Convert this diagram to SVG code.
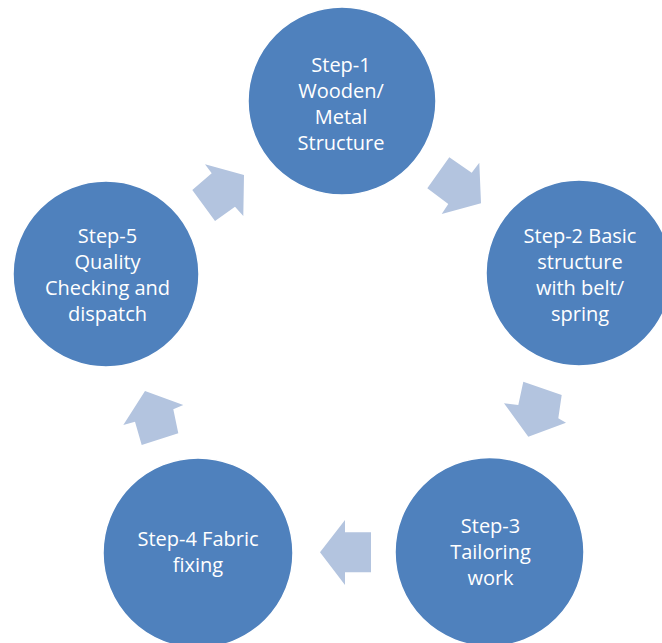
<svg xmlns="http://www.w3.org/2000/svg" width="662" height="643" viewBox="0 0 662 643">
<style>
.node circle{fill:#4F81BD;stroke:#ffffff;stroke-width:1.5}
.node text{font-family:"Open Sans","Liberation Sans",sans-serif;font-size:20px;fill:#ffffff;text-anchor:middle}
.arrow{fill:#B3C4DF;stroke:none}
</style>
<rect width="662" height="643" fill="#ffffff"/>
<g id="connectors">
<polygon class="arrow" points="205,164.3 211.7,173.3 192.3,190 215,221 235,206.7 243.3,216 244,175"/>
<polygon class="arrow" points="449.3,157.3 471.7,172.7 479.3,162.7 481,203.3 441.7,214 448.3,204 427.3,188.3"/>
<polygon class="arrow" points="523.3,381.7 561.7,395 558.3,418.3 566,422.7 528.3,436.7 504,403.3 518.3,405"/>
<polygon class="arrow" points="320,552.3 345,520 345,532.3 371,532.3 371,572.3 345,572.3 345,585"/>
<polygon class="arrow" points="145,391 123.3,425 135,421.7 141.7,445 178.3,433.3 173.3,409.3 183.3,405"/>
</g>
<g id="step1" class="node">
<circle cx="342" cy="101" r="94"/>
<text x="341" y="72">Step-1</text>
<text x="341" y="98">Wooden/</text>
<text x="341" y="124">Metal</text>
<text x="341" y="150">Structure</text>
</g>
<g id="step2" class="node">
<circle cx="579" cy="273" r="93"/>
<text x="580" y="243">Step-2 Basic</text>
<text x="580" y="269">structure</text>
<text x="580" y="295">with belt/</text>
<text x="580" y="321">spring</text>
</g>
<g id="step3" class="node">
<circle cx="489.5" cy="552" r="94.5"/>
<text x="490.5" y="533">Step-3</text>
<text x="490.5" y="559">Tailoring</text>
<text x="490.5" y="585">work</text>
</g>
<g id="step4" class="node">
<circle cx="198" cy="553" r="95"/>
<text x="198" y="546">Step-4 Fabric</text>
<text x="198" y="572">fixing</text>
</g>
<g id="step5" class="node">
<circle cx="106" cy="274" r="93"/>
<text x="107.5" y="243">Step-5</text>
<text x="107.5" y="269">Quality</text>
<text x="107.5" y="295">Checking and</text>
<text x="107.5" y="321">dispatch</text>
</g>
</svg>
